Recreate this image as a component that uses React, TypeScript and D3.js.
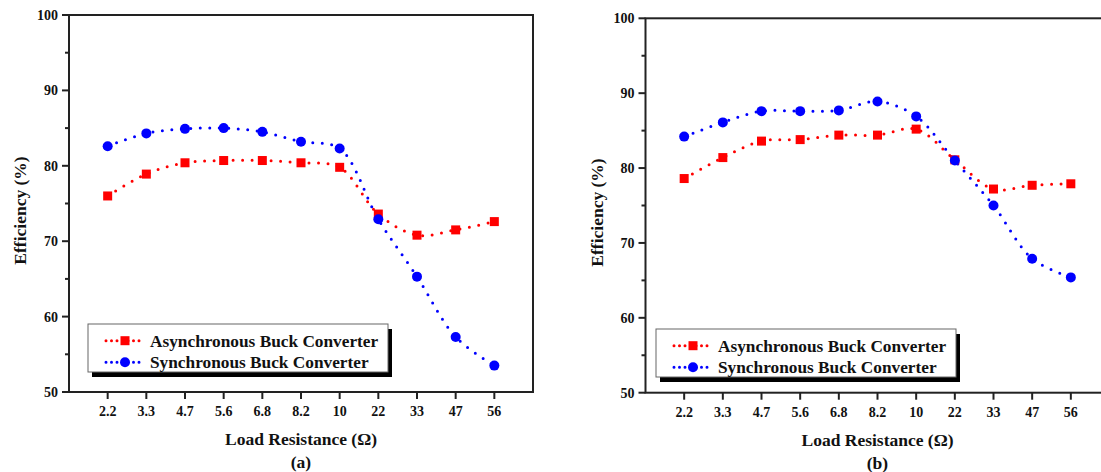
import React from 'react';
import * as d3 from 'd3';

const categories = ['2.2', '3.3', '4.7', '5.6', '6.8', '8.2', '10', '22', '33', '47', '56'];
const asyncA = [76.0, 78.9, 80.4, 80.7, 80.7, 80.4, 79.8, 73.6, 70.8, 71.5, 72.6];
const syncA = [82.6, 84.3, 84.9, 85.0, 84.5, 83.2, 82.3, 72.9, 65.3, 57.3, 53.5];
const asyncB = [78.6, 81.4, 83.6, 83.8, 84.4, 84.4, 85.2, 81.1, 77.2, 77.7, 77.9];
const syncB = [84.2, 86.1, 87.6, 87.6, 87.7, 88.9, 86.9, 81.0, 75.0, 67.9, 65.4];
const yTicks = [50, 60, 70, 80, 90, 100];
const yMinorTicks = [55, 65, 75, 85, 95];
const seriesNames = ['Asynchronous Buck Converter', 'Synchronous Buck Converter'];
const seriesColors = ['#ff0000', '#0000ff'];

const FONT = '"Liberation Serif", "Times New Roman", serif';

const panels = [
    { x0: 69, x1: 533, yTop: 15, yBot: 392, lx: 88, ly: 324, tag: '(a)', data: [asyncA, syncA] },
    { x0: 645.5, x1: 1109.5, yTop: 18.3, yBot: 392.7, lx: 656, ly: 329, tag: '(b)', data: [asyncB, syncB] },
];

const Marker = ({ kind, x, y, color }) =>
    kind === 0
        ? <rect x={x - 4.5} y={y - 4.5} width={9} height={9} fill={color} />
        : <circle cx={x} cy={y} r={5} fill={color} />;

const Panel = ({ p }) => {
    const x = d3.scalePoint().domain(categories).range([p.x0, p.x1]).padding(1);
    const y = d3.scaleLinear().domain([50, 100]).range([p.yBot, p.yTop]);
    const cx = (p.x0 + p.x1) / 2;
    const cy = (p.yTop + p.yBot) / 2;

    const line = d3.line<number>()
        .x((d, i) => x(categories[i]))
        .y(d => y(d))
        .curve(d3.curveCatmullRom.alpha(0.5));

    return (
        <g>
            {/* data lines */}
            {p.data.map((s, k) => (
                <path key={'l' + k} d={line(s)} fill="none" stroke={seriesColors[k]}
                    strokeWidth={3} strokeDasharray="0 9.5" strokeLinecap="round" />
            ))}
            {p.data.map((s, k) => s.map((v, i) => (
                <Marker key={'m' + k + i} kind={k} x={x(categories[i])} y={y(v)} color={seriesColors[k]} />
            )))}

            {/* frame */}
            <rect x={p.x0} y={p.yTop} width={p.x1 - p.x0} height={p.yBot - p.yTop}
                fill="none" stroke="#222" strokeWidth={2} />

            {/* y axis */}
            {yTicks.map(t => (
                <g key={'y' + t}>
                    <line x1={p.x0 - 7} x2={p.x0} y1={y(t)} y2={y(t)} stroke="#222" strokeWidth={2} />
                    <text x={p.x0 - 11} y={y(t)} dy="0.35em" textAnchor="end"
                        fontFamily={FONT} fontWeight="bold" fontSize={14} fill="#111">{t}</text>
                </g>
            ))}
            {yMinorTicks.map(t => (
                <line key={'ym' + t} x1={p.x0 - 4} x2={p.x0} y1={y(t)} y2={y(t)} stroke="#222" strokeWidth={2} />
            ))}

            {/* x axis */}
            {categories.map(c => (
                <g key={'x' + c}>
                    <line x1={x(c)} x2={x(c)} y1={p.yBot} y2={p.yBot + 7} stroke="#222" strokeWidth={2} />
                    <text x={x(c)} y={p.yBot + 19} dy="0.35em" textAnchor="middle"
                        fontFamily={FONT} fontWeight="bold" fontSize={14} fill="#111">{c}</text>
                </g>
            ))}

            <text x={cx} y={p.yBot + 47} dy="0.35em" textAnchor="middle"
                fontFamily={FONT} fontWeight="bold" fontSize={17.5} fill="#111">Load Resistance (Ω)</text>
            <text x={cx} y={p.yBot + 70} dy="0.35em" textAnchor="middle"
                fontFamily={FONT} fontWeight="bold" fontSize={17.5} fill="#111">{p.tag}</text>
            <text transform={`translate(${p.x0 - 49},${cy + 7}) rotate(-90)`} dy="0.35em" textAnchor="middle"
                fontFamily={FONT} fontWeight="bold" fontSize={17.5} fill="#111">Efficiency (%)</text>

            {/* legend */}
            <rect x={p.lx + 4} y={p.ly + 5} width={300} height={48} fill="#000" />
            <rect x={p.lx} y={p.ly} width={300} height={48} fill="#fff" stroke="#666" strokeWidth={1} />
            {seriesNames.map((n, k) => {
                const ry = p.ly + 16.7 + k * 21.6;
                return (
                    <g key={'lg' + k}>
                        <line x1={p.lx + 18} x2={p.lx + 52} y1={ry} y2={ry} stroke={seriesColors[k]}
                            strokeWidth={3} strokeDasharray="0 5.5" strokeLinecap="round" />
                        <Marker kind={k} x={p.lx + 37} y={ry} color={seriesColors[k]} />
                        <text x={p.lx + 62} y={ry} dy="0.35em" fontFamily={FONT} fontWeight="bold"
                            fontSize={17.3} fill="#111">{n}</text>
                    </g>
                );
            })}
        </g>
    );
};

export default function App() {
    return (
        <svg width={1101} height={472} style={{ position: 'absolute', left: 0, top: 0, background: '#fff' }}>
            <rect width={1101} height={472} fill="#fff" />
            {panels.map((p, i) => <Panel key={i} p={p} />)}
        </svg>
    );
}
